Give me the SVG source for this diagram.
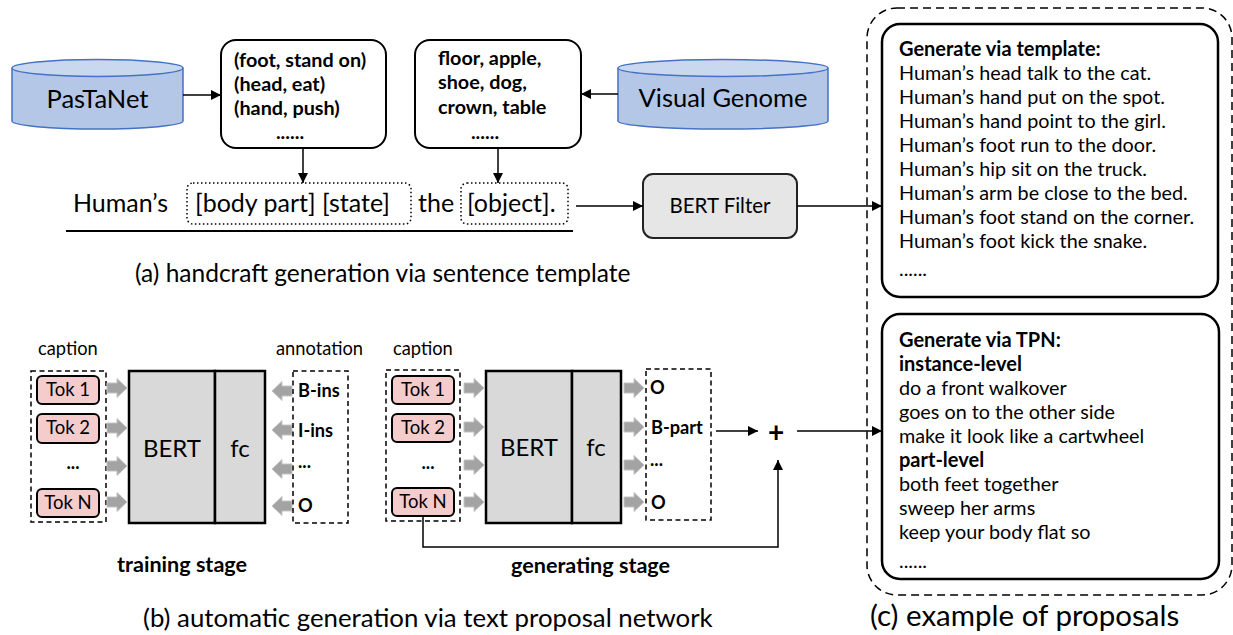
<svg xmlns="http://www.w3.org/2000/svg" width="1233" height="635" viewBox="0 0 1233 635">
<style>
text{font-family:Lato,"Open Sans","Liberation Sans",sans-serif;fill:#000}
.capa{font-size:24.5px}
.capb{font-size:25.8px}
.capc{font-size:29.5px}
.tpl{font-size:25px}
.cylt{font-size:25.5px}
.b20{font-size:19.8px;font-weight:bold}
.r20{font-size:19.8px}
.s20{font-size:20px;font-weight:bold}
.tok{font-size:18.5px}
.lbl{font-size:18.3px}
.lb{font-size:18.2px;font-weight:bold}
.stage{font-size:21.6px;font-weight:bold}
.bertt{font-size:24px}
.mid{text-anchor:middle}
.cyl{fill:#b4c7e7;stroke:#4472c4;stroke-width:1.5}
.cyltop{fill:#c9d7ef;stroke:#4472c4;stroke-width:1.5}
.box{fill:#fff;stroke:#000;stroke-width:2}
.dot{fill:none;stroke:#000;stroke-width:1.5;stroke-dasharray:1.5,2.5}
.dash{fill:none;stroke:#000;stroke-width:1.5;stroke-dasharray:5,3.5}
.odash{fill:none;stroke:#000;stroke-width:1.5;stroke-dasharray:8,5}
.bert{fill:#d9d9d9;stroke:#000;stroke-width:2.5}
.tokbox{fill:#f4cccc;stroke:#000;stroke-width:2}
.line{fill:none;stroke:#000;stroke-width:1.5}
.blk{fill:#a3a3a3;stroke:#c4c4c4;stroke-width:1}
</style>
<defs>
<marker id="ah" viewBox="0 0 10 10" refX="10" refY="5" markerWidth="10" markerHeight="10" markerUnits="userSpaceOnUse" orient="auto">
<path d="M0,0 L10,5 L0,10 z" fill="#000"/>
</marker>
<path id="barr" d="M0,-5 L10,-5 L10,-9.5 L20,0 L10,9.5 L10,5 L0,5 z"/>
</defs>

<g id="pastanet">
<path class="cyl" d="M12,68 L12,121 A85.5,8 0 0 0 183,121 L183,68"/>
<ellipse class="cyltop" cx="97.5" cy="68" rx="85.5" ry="8.5"/>
<text class="cylt mid" x="97.5" y="108">PasTaNet</text>
</g>

<g id="visualgenome">
<path class="cyl" d="M618,68 L618,121 A105,8 0 0 0 828,121 L828,68"/>
<ellipse class="cyltop" cx="723" cy="68" rx="105" ry="8.5"/>
<text class="cylt mid" x="723" y="107">Visual Genome</text>
</g>

<g id="pairs">
<rect class="box" x="221" y="40" width="165" height="108" rx="15"/>
<text class="b20" x="234" y="67">(foot, stand on)</text>
<text class="b20" x="234" y="91">(head, eat)</text>
<text class="b20" x="234" y="115">(hand, push)</text>
<text class="b20 mid" x="290" y="139">......</text>
</g>

<g id="objects">
<rect class="box" x="415" y="40" width="166" height="108" rx="15"/>
<text class="b20" x="438" y="65">floor, apple,</text>
<text class="b20" x="438" y="89">shoe, dog,</text>
<text class="b20" x="438" y="114">crown, table</text>
<text class="b20 mid" x="485" y="139">......</text>
</g>

<g id="template">
<text class="tpl" x="73" y="212">Human’s</text>
<rect class="dot" x="187" y="183" width="224" height="41" rx="6"/>
<text class="tpl" x="195" y="212">[body part] [state]</text>
<text class="tpl" x="418" y="212">the</text>
<rect class="dot" x="461" y="183" width="107" height="41" rx="6"/>
<text class="tpl" x="467" y="212">[object].</text>
<line x1="66" y1="231" x2="573" y2="231" stroke="#000" stroke-width="2"/>
<text class="capa" x="135" y="282">(a) handcraft generation via sentence template</text>
</g>

<g id="bertfilter">
<rect x="643" y="174" width="154" height="64" rx="10" fill="#e6e6e6" stroke="#222" stroke-width="2"/>
<text class="mid" x="720" y="213" style="font-size:20.5px">BERT Filter</text>
</g>

<g id="proposals">
<rect class="odash" x="867" y="8" width="365" height="587" rx="30"/>
<text class="capc" x="870" y="626">(c) example of proposals</text>
</g>

<g id="templatebox">
<rect x="882" y="24" width="336" height="273" rx="18" fill="#fff" stroke="#000" stroke-width="2.5"/>
<text class="s20" x="899" y="56">Generate via template:</text>
<text class="r20" x="899" y="80">Human’s head talk to the cat.</text>
<text class="r20" x="899" y="104">Human’s hand put on the spot.</text>
<text class="r20" x="899" y="128">Human’s hand point to the girl.</text>
<text class="r20" x="899" y="152">Human’s foot run to the door.</text>
<text class="r20" x="899" y="176">Human’s hip sit on the truck.</text>
<text class="r20" x="899" y="200">Human’s arm be close to the bed.</text>
<text class="r20" x="899" y="224">Human’s foot stand on the corner.</text>
<text class="r20" x="899" y="248">Human’s foot kick the snake.</text>
<text class="r20" x="899" y="276">......</text>
</g>

<g id="tpnbox">
<rect x="882" y="314" width="337" height="265" rx="18" fill="#fff" stroke="#000" stroke-width="2.5"/>
<text class="s20" x="899" y="347">Generate via TPN:</text>
<text class="s20" x="899" y="371">instance-level</text>
<text class="r20" x="899" y="395">do a front walkover</text>
<text class="r20" x="899" y="419">goes on to the other side</text>
<text class="r20" x="899" y="443">make it look like a cartwheel</text>
<text class="s20" x="899" y="467">part-level</text>
<text class="r20" x="899" y="491">both feet together</text>
<text class="r20" x="899" y="515">sweep her arms</text>
<text class="r20" x="899" y="539">keep your body flat so</text>
<text class="r20" x="899" y="568">......</text>
</g>

<g id="training">
<text class="lbl" x="38" y="355">caption</text>
<rect class="dash" x="31" y="371" width="75" height="151"/>
<rect class="tokbox" x="37" y="376" width="62" height="28" rx="5"/>
<text class="tok mid" x="68" y="396">Tok 1</text>
<rect class="tokbox" x="37" y="414" width="62" height="29" rx="5"/>
<text class="tok mid" x="68" y="434">Tok 2</text>
<text class="lb mid" x="73" y="469">...</text>
<rect class="tokbox" x="37" y="489" width="62" height="28" rx="5"/>
<text class="tok mid" x="68" y="509">Tok N</text>
<use href="#barr" class="blk" transform="translate(107,388)"/>
<use href="#barr" class="blk" transform="translate(107,428)"/>
<use href="#barr" class="blk" transform="translate(107,466)"/>
<use href="#barr" class="blk" transform="translate(107,502)"/>
<rect class="bert" x="129" y="371" width="86" height="152"/>
<rect class="bert" x="215" y="371" width="50" height="152"/>
<text class="bertt mid" x="172" y="457">BERT</text>
<text class="bertt mid" x="240" y="457">fc</text>
<use href="#barr" class="blk" transform="translate(292,391) scale(-1,1)"/>
<use href="#barr" class="blk" transform="translate(292,430) scale(-1,1)"/>
<use href="#barr" class="blk" transform="translate(292,469) scale(-1,1)"/>
<use href="#barr" class="blk" transform="translate(292,506) scale(-1,1)"/>
<text class="lbl" x="276" y="355">annotation</text>
<rect class="dash" x="293" y="371" width="55" height="152"/>
<text class="lb" x="298" y="397">B-ins</text>
<text class="lb" x="298" y="437">I-ins</text>
<text class="lb" x="298" y="468">...</text>
<text class="lb" x="298" y="512">O</text>
<text class="stage" x="117" y="572">training stage</text>
</g>

<g id="generating">
<text class="lbl" x="393" y="355">caption</text>
<rect class="dash" x="386" y="370" width="74" height="151"/>
<rect class="tokbox" x="392" y="376" width="62" height="28" rx="5"/>
<text class="tok mid" x="423" y="396">Tok 1</text>
<rect class="tokbox" x="392" y="414" width="62" height="28" rx="5"/>
<text class="tok mid" x="423" y="434">Tok 2</text>
<text class="lb mid" x="428" y="469">...</text>
<rect class="tokbox" x="392" y="488" width="62" height="28" rx="5"/>
<text class="tok mid" x="423" y="508">Tok N</text>
<use href="#barr" class="blk" transform="translate(464,388)"/>
<use href="#barr" class="blk" transform="translate(464,427)"/>
<use href="#barr" class="blk" transform="translate(464,465)"/>
<use href="#barr" class="blk" transform="translate(464,502)"/>
<rect class="bert" x="486" y="371" width="86" height="152"/>
<rect class="bert" x="572" y="371" width="49" height="152"/>
<text class="bertt mid" x="529" y="456">BERT</text>
<text class="bertt mid" x="596" y="456">fc</text>
<use href="#barr" class="blk" transform="translate(624,388)"/>
<use href="#barr" class="blk" transform="translate(624,427)"/>
<use href="#barr" class="blk" transform="translate(624,465)"/>
<use href="#barr" class="blk" transform="translate(624,502)"/>
<rect class="dash" x="646" y="369" width="65" height="151"/>
<text class="lb" x="650" y="394">O</text>
<text class="lb" x="651" y="434">B-part</text>
<text class="lb" x="650" y="466">...</text>
<text class="lb" x="651" y="509">O</text>
<text class="mid" x="776" y="442" style="font-size:28px;font-weight:bold">+</text>
<text class="stage" x="511" y="573">generating stage</text>
<text class="capb" x="143" y="627">(b) automatic generation via text proposal network</text>
</g>

<g id="connectors">
<line class="line" x1="183" y1="95" x2="221" y2="95" marker-end="url(#ah)"/>
<line class="line" x1="618" y1="94" x2="581" y2="94" marker-end="url(#ah)"/>
<line class="line" x1="303" y1="148" x2="303" y2="183" marker-end="url(#ah)"/>
<line class="line" x1="498" y1="148" x2="498" y2="183" marker-end="url(#ah)"/>
<line class="line" x1="576" y1="206" x2="643" y2="206" marker-end="url(#ah)"/>
<line class="line" x1="797" y1="206" x2="882" y2="206" marker-end="url(#ah)"/>
<line class="line" x1="716" y1="431" x2="758" y2="431" marker-end="url(#ah)"/>
<line class="line" x1="797" y1="431" x2="882" y2="431" marker-end="url(#ah)"/>
<path class="line" d="M423,517 L423,547 L778,547 L778,460" marker-end="url(#ah)"/>
</g>
</svg>
